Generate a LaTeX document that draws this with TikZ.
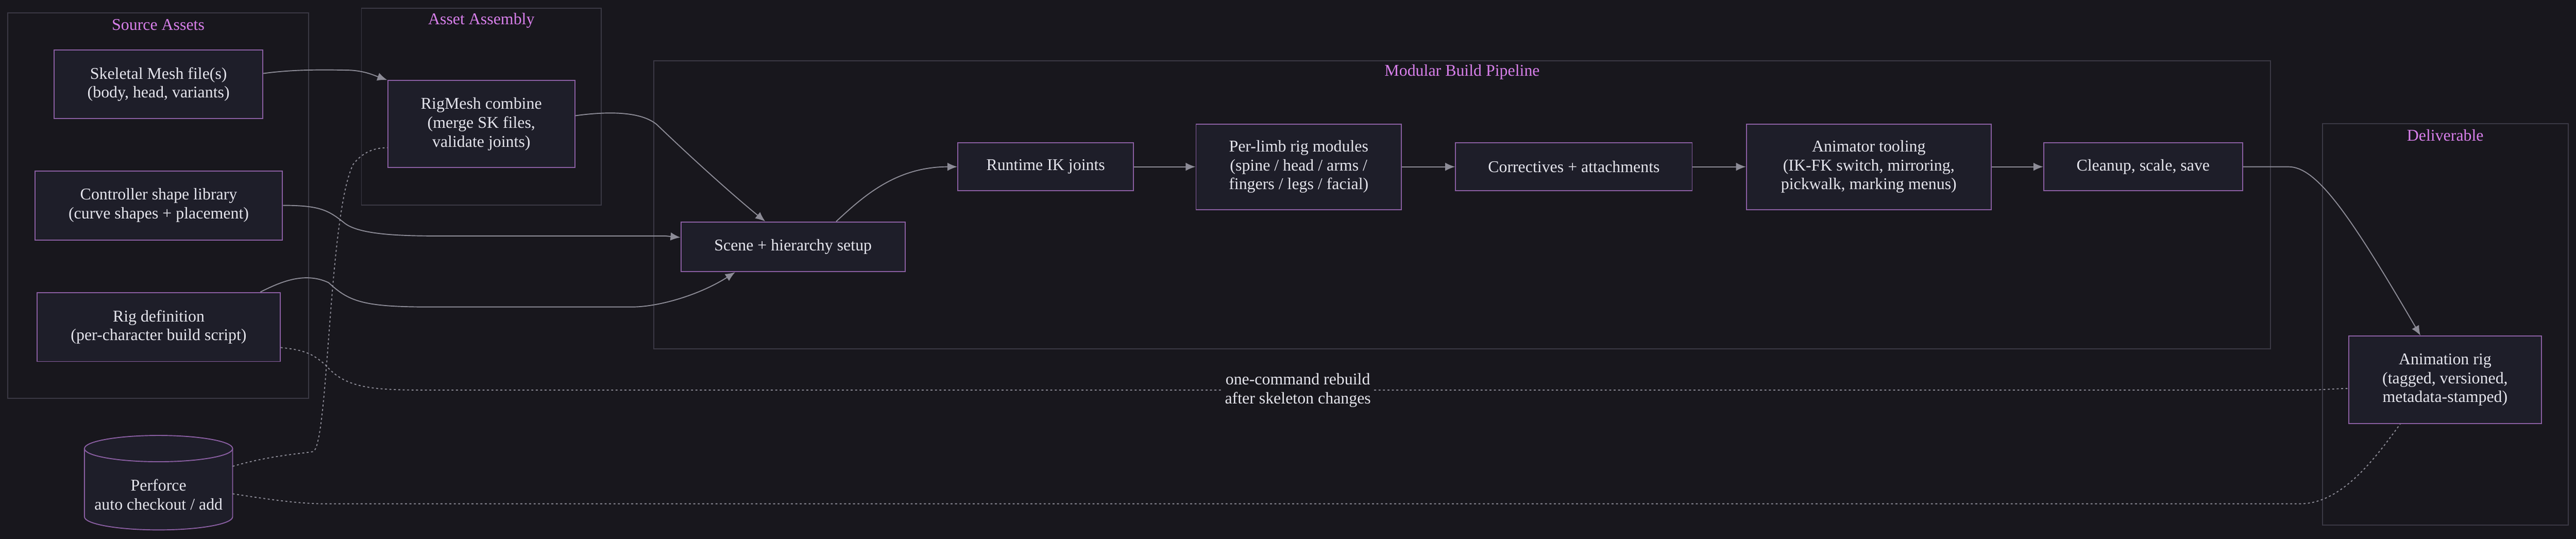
\documentclass[tikz,border=0pt]{standalone}
\usepackage{fontspec}
\setmainfont{Liberation Serif}
\usetikzlibrary{arrows.meta}
\definecolor{bg}{HTML}{18171D}
\definecolor{nfill}{HTML}{1E1E29}
\definecolor{nbord}{HTML}{8B5FA3}
\definecolor{cbord}{HTML}{3B3945}
\definecolor{ctitle}{HTML}{D77FEA}
\definecolor{edge}{HTML}{8C8B96}
\definecolor{txt}{HTML}{E4E4EC}
\tikzset{
 box/.style={draw=nbord, fill=nfill, line width=0.6pt, text=txt, align=center, font=\fontsize{10}{11.5}\selectfont, inner sep=0pt},
 clus/.style={draw=cbord, line width=0.6pt},
 ctitle/.style={text=ctitle, font=\fontsize{10}{12}\selectfont},
 arr/.style={draw=edge, line width=0.6pt, -{Latex[length=6pt,width=5pt]}},
 dot/.style={draw=edge, line width=0.6pt, dash pattern=on 1.2pt off 1.5pt},
}
\begin{document}
\begin{tikzpicture}[x=1pt,y=-1pt]
\fill[bg] (0,0) rectangle (1568,328);
\useasboundingbox (0,0) rectangle (1568,328);
% clusters
\draw[clus] (4.8,7.9) rectangle (187.8,242.3);
\node[ctitle] (tSrc) at (96.3,15) {Source Assets};
\draw[clus] (220,5) rectangle (366,124.8);
\node[ctitle] (tAsm) at (293,12.5) {Asset Assembly};
\draw[clus] (398,37) rectangle (1381.9,212.4);
\node[ctitle] (tMod) at (890,44) {Modular Build Pipeline};
\draw[clus] (1413.6,75.2) rectangle (1563.2,319.7);
\node[ctitle] (tDel) at (1488.4,82.5) {Deliverable};
% nodes
\node[box, minimum width=127, minimum height=41.6] (sk) at (96.5,51.3) {Skeletal Mesh file(s)\\(body, head, variants)};
\node[box, minimum width=114, minimum height=53] (rm) at (293,75.5) {RigMesh combine\\(merge SK files,\\validate joints)};
\node[box, minimum width=150.7, minimum height=42] (ctl) at (96.6,125) {Controller shape library\\(curve shapes + placement)};
\node[box, minimum width=147.9, minimum height=42] (rig) at (96.6,199) {Rig definition\\(per-character build script)};
\node[box, minimum width=136.5, minimum height=30.3] (sc) at (482.7,150.2) {Scene + hierarchy setup};
\node[box, minimum width=107, minimum height=29] (ik) at (636.5,101.5) {Runtime IK joints};
\node[box, minimum width=125, minimum height=52] (pl) at (790.5,101.5) {Per-limb rig modules\\(spine / head / arms /\\fingers / legs / facial)};
\node[box, minimum width=144, minimum height=29] (co) at (958,101.5) {Correctives + attachments};
\node[box, minimum width=149, minimum height=52] (an) at (1137.5,101.5) {Animator tooling\\(IK-FK switch, mirroring,\\pickwalk, marking menus)};
\node[box, minimum width=121, minimum height=29] (cl) at (1304.5,101.5) {Cleanup, scale, save};
\node[box, minimum width=117.4, minimum height=53.2] (ar) at (1488.3,231.1) {Animation rig\\(tagged, versioned,\\metadata-stamped)};
% cylinder
\draw[nbord, fill=nfill, line width=0.6pt] (51.4,273) -- (51.4,314.5) arc[start angle=180, end angle=360, x radius=45.1pt, y radius=8pt] -- (141.6,273);
\draw[nbord, fill=nfill, line width=0.6pt] (96.5,273) ellipse[x radius=45.1pt, y radius=8pt];
\node[text=txt, align=center, font=\fontsize{10}{11.5}\selectfont] (pf) at (96.5,301) {Perforce\\auto checkout / add};
\coordinate (pfa) at (141.6,283.8);
\coordinate (pfb) at (141.6,300.5);
% edges
\draw[arr] (sk.east |- 0,44.7) .. controls (180,42) and (200,42.5) .. (212,42.7) .. controls (222,43) and (228,46) .. (rm.north west);
\draw[arr] (rm.east |- 0,70.4) .. controls (375,67) and (392,69) .. (400,76) .. controls (425,100) and (450,122) .. (sc.north -| 465.8,0);
\draw[arr] (ctl.east) .. controls (195,125) and (200,128) .. (210,136) .. controls (220,143.6) and (250,143.6) .. (270,143.6) -- (405,143.6) -- (sc.west |- 0,144.5);
\draw[arr] (rig.north -| 158.5,0) .. controls (170,172) and (185,165) .. (200,172) .. controls (212,183) and (220,186.8) .. (260,186.8) -- (385,186.8) .. controls (400,186.8) and (425,180) .. (sc.south -| 447.5,0);
\draw[arr] (sc.north -| 509,0) .. controls (525,120) and (545,101.5) .. (ik.west);
\draw[arr] (ik.east) -- (pl.west);
\draw[arr] (pl.east) -- (co.west);
\draw[arr] (co.east) -- (an.west);
\draw[arr] (an.east) -- (cl.west);
\draw[arr] (cl.east) -- (1393,101.5) .. controls (1410,101.5) and (1430,130) .. (ar.north -| 1473.3,0);
\draw[dot] (rig.east |- 0,211.5) .. controls (185,213) and (190,215) .. (198,222) .. controls (210,236) and (225,237.4) .. (260,237.4) -- (1400,237.4) .. controls (1415,237.4) and (1420,236.5) .. (ar.west |- 0,236.4);
\node[fill=bg, text=txt, align=center, font=\fontsize{10}{11.5}\selectfont, inner sep=1pt] (lbl) at (790,237.5) {one-command rebuild\\after skeleton changes};
\draw[dot] (pfa) .. controls (165,277) and (185,276) .. (190.7,274.8) .. controls (200,270) and (200,130) .. (215,100) .. controls (222,91) and (230,90) .. (rm.west |- 0,89.9);
\draw[dot] (pfb) .. controls (170,305) and (185,306.6) .. (198,306.6) -- (1400,306.6) .. controls (1425,306.6) and (1445,280) .. (ar.south -| 1461,0);
\end{tikzpicture}
\end{document}
